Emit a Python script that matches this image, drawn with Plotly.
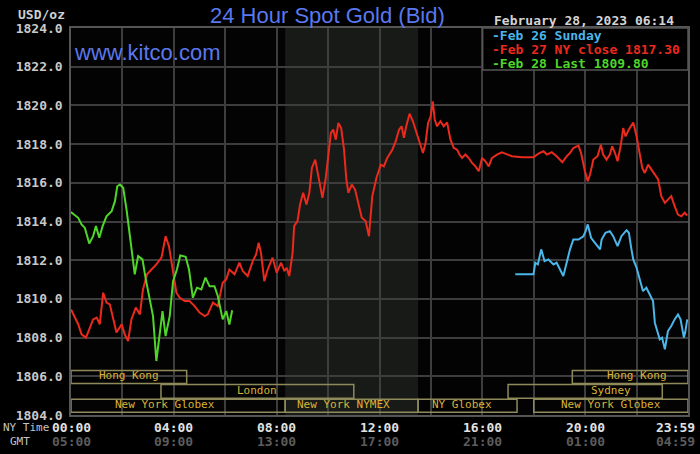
import plotly.graph_objects as go

# --- data (x in NY hours, y in USD/oz) ---

FEB28_HOURS = [0.0, 0.03, 0.28, 0.41, 0.54, 0.71, 0.86, 0.97, 1.10, 1.23, 1.38, 1.58, 1.71,
               1.80, 1.90, 2.03, 2.16, 2.31, 2.48, 2.61, 2.78, 2.91, 3.06, 3.19, 3.32, 3.45,
               3.56, 3.68, 3.84, 3.97, 4.12, 4.25, 4.46, 4.59, 4.74, 4.90, 5.07, 5.23, 5.39,
               5.58, 5.71, 5.90, 6.04, 6.16, 6.27]
FEB28_PRICE = [1814.50, 1814.45, 1814.19, 1813.85, 1813.67, 1812.86, 1813.24, 1813.76, 1813.16,
               1813.76, 1814.27, 1814.53, 1815.05, 1815.82, 1815.91, 1815.74, 1814.62, 1813.07,
               1811.27, 1812.21, 1812.04, 1811.01, 1809.97, 1809.11, 1806.79, 1808.26, 1809.37,
               1808.08, 1809.11, 1810.92, 1811.52, 1812.25, 1812.18, 1811.52, 1810.06, 1810.58,
               1810.49, 1811.10, 1810.66, 1810.66, 1810.15, 1808.94, 1809.37, 1808.68, 1809.41]

FEB27_HOURS = [0.0, 0.16, 0.28, 0.41, 0.58, 0.71, 0.86, 1.00, 1.12, 1.25, 1.38, 1.51, 1.64,
               1.77, 1.97, 2.09, 2.22, 2.35, 2.52, 2.68, 2.80, 2.96, 3.13, 3.32, 3.52, 3.68,
               3.81, 3.97, 4.10, 4.23, 4.42, 4.61, 4.81, 5.00, 5.20, 5.32, 5.52, 5.71, 5.90,
               6.04, 6.16, 6.36, 6.55, 6.68, 6.87, 7.07, 7.20, 7.30, 7.39, 7.52, 7.65, 7.84,
               8.00, 8.17, 8.30, 8.39, 8.49, 8.62, 8.68, 8.81, 8.91, 9.03, 9.16, 9.27, 9.37,
               9.50, 9.59, 9.68, 9.78, 9.91, 10.01, 10.11, 10.20, 10.30, 10.40, 10.51, 10.62,
               10.71, 10.79, 10.92, 11.05, 11.18, 11.31, 11.46, 11.59, 11.72, 11.88, 12.05,
               12.17, 12.30, 12.50, 12.63, 12.76, 12.86, 12.95, 13.04, 13.17, 13.30, 13.43,
               13.56, 13.69, 13.79, 13.89, 13.99, 14.07, 14.15, 14.24, 14.37, 14.50, 14.63,
               14.76, 14.89, 15.02, 15.11, 15.21, 15.34, 15.47, 15.60, 15.73, 15.86, 15.99,
               16.12, 16.25, 16.37, 16.57, 16.76, 16.96, 17.15, 17.54, 17.99, 18.18, 18.38,
               18.51, 18.70, 18.89, 19.11, 19.28, 19.41, 19.54, 19.74, 19.84, 19.93, 19.99,
               20.10, 20.19, 20.32, 20.48, 20.61, 20.70, 20.83, 20.96, 21.05, 21.16, 21.26,
               21.39, 21.48, 21.57, 21.70, 21.87, 22.00, 22.13, 22.22, 22.32, 22.45, 22.58,
               22.71, 22.84, 22.96, 23.10, 23.22, 23.35, 23.48, 23.61, 23.74, 23.87, 23.97]
FEB27_PRICE = [1809.45, 1809.03, 1808.69, 1808.17, 1808.00, 1808.43, 1808.94, 1809.03, 1808.69,
               1810.32, 1809.81, 1809.72, 1809.03, 1808.26, 1808.69, 1808.17, 1807.82, 1808.94,
               1809.55, 1809.20, 1810.49, 1811.27, 1811.52, 1811.78, 1812.13, 1813.24, 1812.73,
               1811.52, 1810.32, 1810.06, 1809.89, 1809.89, 1809.63, 1809.29, 1809.11, 1809.20,
               1809.81, 1809.63, 1810.84, 1811.01, 1811.52, 1811.27, 1811.87, 1811.44, 1811.18,
               1811.95, 1812.30, 1812.90, 1812.38, 1810.92, 1811.52, 1812.13, 1811.35, 1811.87,
               1811.44, 1811.61, 1811.18, 1812.38, 1813.76, 1814.02, 1814.88, 1815.48, 1814.88,
               1815.48, 1816.77, 1817.20, 1816.51, 1815.82, 1815.22, 1816.25, 1817.54, 1818.58,
               1818.75, 1818.23, 1819.09, 1818.83, 1817.71, 1816.17, 1815.48, 1815.91, 1815.65,
               1814.96, 1814.19, 1814.02, 1813.24, 1815.31, 1816.25, 1816.94, 1816.85, 1817.28,
               1817.71, 1818.14, 1818.75, 1818.92, 1818.32, 1818.92, 1819.57, 1819.18, 1818.66,
               1818.06, 1817.54, 1818.06, 1819.09, 1819.43, 1820.21, 1819.26, 1818.92, 1819.18,
               1818.92, 1819.12, 1818.23, 1817.80, 1817.71, 1817.46, 1817.28, 1817.46, 1817.28,
               1817.03, 1816.85, 1816.60, 1817.28, 1817.11, 1816.85, 1817.28, 1817.46, 1817.58,
               1817.46, 1817.37, 1817.32, 1817.32, 1817.51, 1817.63, 1817.46, 1817.58, 1817.37,
               1817.06, 1817.37, 1817.54, 1817.80, 1817.92, 1817.54, 1816.85, 1816.60, 1816.08,
               1816.43, 1817.20, 1817.37, 1817.97, 1817.46, 1817.20, 1817.46, 1817.89, 1817.54,
               1817.11, 1817.97, 1818.83, 1818.40, 1818.75, 1819.12, 1818.40, 1817.46, 1816.77,
               1816.51, 1816.94, 1816.68, 1816.43, 1816.17, 1815.31, 1814.96, 1815.13, 1815.31,
               1814.79, 1814.36, 1814.27, 1814.45, 1814.31]

FEB26_HOURS = [17.28, 17.99, 18.06, 18.16, 18.29, 18.42, 18.57, 18.77, 18.89, 18.99, 19.15,
               19.28, 19.41, 19.54, 19.74, 19.93, 20.02, 20.10, 20.23, 20.38, 20.51, 20.58,
               20.64, 20.79, 20.96, 21.09, 21.26, 21.41, 21.61, 21.70, 21.80, 21.87, 22.00,
               22.13, 22.25, 22.38, 22.51, 22.64, 22.71, 22.81, 22.90, 22.99, 23.10, 23.22,
               23.35, 23.48, 23.61, 23.71, 23.84, 23.89, 23.97]
FEB26_PRICE = [1811.27, 1811.27, 1811.87, 1811.78, 1812.56, 1811.95, 1812.04, 1811.78, 1811.87,
               1811.61, 1811.18, 1811.87, 1812.56, 1813.07, 1813.07, 1813.24, 1813.50, 1813.85,
               1813.16, 1812.90, 1812.64, 1812.56, 1813.07, 1813.42, 1813.50, 1813.24, 1812.73,
               1813.24, 1813.55, 1813.42, 1812.56, 1812.04, 1811.61, 1811.01, 1810.40, 1810.58,
               1810.23, 1809.89, 1808.77, 1808.34, 1807.91, 1808.00, 1807.40, 1808.34, 1808.60,
               1808.94, 1809.20, 1808.94, 1808.00, 1808.26, 1808.94]

LEGEND_TEXT = ["-Feb 26 Sunday", "-Feb 27 NY close 1817.30", "-Feb 28 Last 1809.80"]

TICK_HOURS = [0, 4, 8, 12, 16, 20, 24]
NY_LABELS = ["00:00", "04:00", "08:00", "12:00", "16:00", "20:00", "23:59"]
GMT_LABELS = ["05:00", "09:00", "13:00", "17:00", "21:00", "01:00", "04:59"]

SESSION_NAMES = ["Hong Kong", "Hong Kong", "London", "Sydney",
                 "New York Globex", "New York NYMEX", "NY Globex", "New York Globex"]
SESSION_START = [0.0, 19.5, 3.5, 17.0, 0.0, 8.33, 13.5, 18.0]
SESSION_END = [4.5, 24.0, 11.0, 23.0, 8.33, 13.5, 17.35, 24.0]
SESSION_ROW = [0, 0, 1, 1, 2, 2, 2, 2]

# --- styling ---
BLUE = "#4bb6ea"
RED = "#ea2a1c"
GREEN = "#4fd629"
GRID = "#3d3d3d"
MONO = "DejaVu Sans Mono, Liberation Mono, monospace"
SANS = "Liberation Sans, Arial, sans-serif"
GOLD_TEXT = "#dab238"
GOLD_LINE = "#8e8a5a"

PX_W = 619.0   # plot width in px
PX_H = 387.0   # plot height in px


def note(x, y, text, size, color, family=MONO, xanchor="center", xref="paper", yref="paper",
         weight="bold", **kw):
    fig.add_annotation(x=x, y=y, xref=xref, yref=yref, text=text, showarrow=False,
                       xanchor=xanchor, yanchor="middle",
                       font=dict(family=family, size=size, color=color, weight=weight), **kw)


fig = go.Figure()

for hrs, px, col in [(FEB27_HOURS, FEB27_PRICE, RED),
                     (FEB26_HOURS, FEB26_PRICE, BLUE),
                     (FEB28_HOURS, FEB28_PRICE, GREEN)]:
    fig.add_trace(go.Scatter(x=hrs, y=px, mode="lines", showlegend=False,
                             line=dict(color=col, width=2), hoverinfo="skip"))

# NYMEX shading behind the grid
nymex = SESSION_NAMES.index("New York NYMEX")
fig.add_shape(type="rect", xref="x", yref="paper",
              x0=SESSION_START[nymex], x1=SESSION_END[nymex], y0=0, y1=1,
              fillcolor="#171a17", line_width=0, layer="below")

# session bands along the bottom
row_bounds = [(1805.63, 1806.30), (1804.86, 1805.58), (1804.14, 1804.81)]
label_shift = {3: 1.0, 4: -0.5, 5: -0.3, 6: -0.2, 1: 0.25}
for i, name in enumerate(SESSION_NAMES):
    y0, y1 = row_bounds[SESSION_ROW[i]]
    fig.add_shape(type="rect", xref="x", yref="y",
                  x0=SESSION_START[i], x1=SESSION_END[i], y0=y0, y1=y1,
                  line=dict(color=GOLD_LINE, width=1.5), fillcolor="rgba(0,0,0,0)")
    note((SESSION_START[i] + SESSION_END[i]) / 2 + label_shift.get(i, 0), (y0 + y1) / 2,
         name, 11, GOLD_TEXT, xref="x", yref="y", weight="normal", yshift=1)

# time labels under the axis
for h, ny, gmt in zip(TICK_HOURS, NY_LABELS, GMT_LABELS):
    shift = -13 if h == 24 else 0
    note(h, -12 / PX_H, ny, 13, "#e2e2e2", xref="x", xshift=shift)
    note(h, -27 / PX_H, gmt, 13, "#5c5c5c", xref="x", xshift=shift)

note(-70 / PX_W, -12 / PX_H, "NY Time", 11, "#c4c4c4", xanchor="left", weight="normal")
note(-51 / PX_W, -27 / PX_H, "GMT", 11, "#c4c4c4", weight="normal")

# headings
note(-4 / PX_W, 1 + 14 / PX_H, "USD/oz", 13, "#cfcfcf", xanchor="right")
note(257 / PX_W, 1 + 12 / PX_H, "24 Hour Spot Gold (Bid)", 22, "#5a78ee", family=SANS,
     weight="normal")
note(1 / PX_W, 1 - 24.5 / PX_H, "www.kitco.com", 22, "#5a78ee", family=SANS, xanchor="left",
     weight="normal")
note((678 - 71) / PX_W, 1 + 7 / PX_H, "February 28, 2023 06:14", 13, "#d4d4d4", xanchor="right")

# legend box
fig.add_shape(type="rect", xref="paper", yref="paper",
              x0=(484 - 71) / PX_W, x1=1, y0=1 - 42 / PX_H, y1=1,
              fillcolor="#000000", line=dict(color="#555555", width=1.5), layer="above")
for k, (txt, col) in enumerate(zip(LEGEND_TEXT, [BLUE, RED, GREEN])):
    note((491 - 71) / PX_W, 1 - (7 + 14.5 * k) / PX_H, txt, 13, col, xanchor="left")

fig.update_xaxes(range=[0, 24], dtick=2, tick0=0, showticklabels=False, ticks="",
                 showgrid=True, gridcolor=GRID, gridwidth=1.5, zeroline=False,
                 showline=True, linecolor="#555555", linewidth=1.5, mirror=True)
fig.update_yaxes(range=[1804, 1824], dtick=2, tick0=1804, tickformat=".1f", ticks="",
                 ticklabelstandoff=4, showgrid=True, gridcolor=GRID, gridwidth=1.5,
                 zeroline=False, showline=True, linecolor="#555555", linewidth=1.5, mirror=True,
                 tickfont=dict(family=MONO, size=13, color="#c9c9c9", weight="bold"))

fig.update_layout(width=700, height=454, margin=dict(l=71, r=10, t=28, b=39),
                  paper_bgcolor="#000000", plot_bgcolor="#030303", showlegend=False)

# the page body has a default margin; drop it so the figure sits at the window's corner
fig.write_html("out.html", config={"displayModeBar": False},
               post_script="document.body.style.margin='0';")
